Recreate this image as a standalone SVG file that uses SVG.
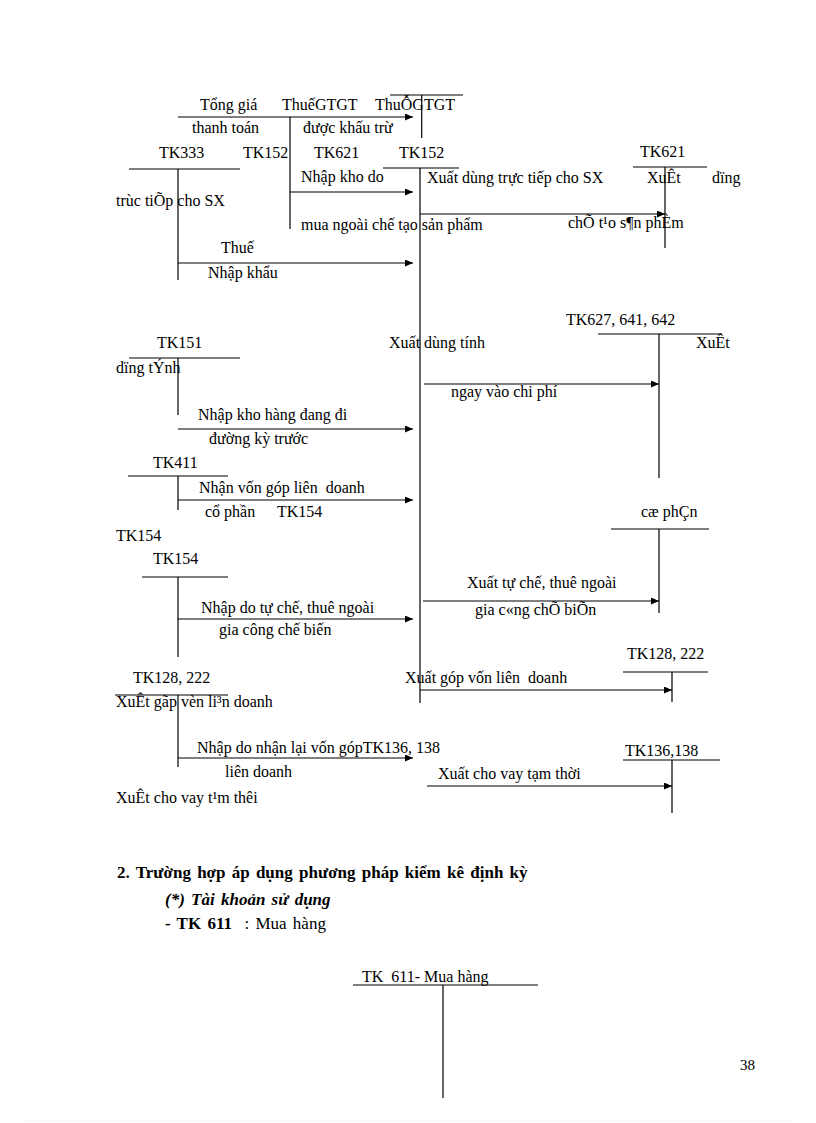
<svg xmlns="http://www.w3.org/2000/svg" width="816" height="1123" viewBox="0 0 816 1123">
<defs>
<marker id="ah" markerUnits="userSpaceOnUse" markerWidth="10" markerHeight="8" refX="8" refY="3.5" orient="auto">
<path d="M0,0 L8,3.5 L0,7 z" fill="#000"/>
</marker>
<style>
text{font-family:"Liberation Serif","Times New Roman",serif;font-size:16px;fill:#000;white-space:pre}
.ln{stroke:#000;stroke-width:1.2;fill:none}
.ar{stroke:#000;stroke-width:1.2;fill:none;marker-end:url(#ah)}
.b{font-weight:bold}
.bi{font-weight:bold;font-style:italic}
.h{font-size:17px;word-spacing:2px}
</style>
</defs>
<rect width="816" height="1123" fill="#fff"/>

<g id="tk-gtgt">
<path class="ln" d="M390,95H463M421.7,95V138"/>
<text x="375" y="110">ThuỖGTGT</text>
</g>
<g id="tk333">
<path class="ln" d="M129,169H240M178,169V280"/>
<text x="159" y="158">TK333</text>
</g>
<g id="tk152-left">
<path class="ln" d="M290,117V229"/>
<text x="243" y="158">TK152</text>
</g>
<g id="tk152-main">
<path class="ln" d="M383,168H459M420,168V703"/>
<text x="399" y="158">TK152</text>
</g>
<g id="tk621">
<path class="ln" d="M633,167H707M665,167V248"/>
<text x="640" y="157">TK621</text>
</g>
<g id="tk627">
<path class="ln" d="M598,334H722M659,334V478"/>
<text x="566" y="325">TK627, 641, 642</text>
</g>
<g id="tk151">
<path class="ln" d="M129,358H240M178,358V415"/>
<text x="157" y="348">TK151</text>
</g>
<g id="tk411">
<path class="ln" d="M128,476H228M178,476V510"/>
<text x="153" y="468">TK411</text>
</g>
<g id="tk154-right">
<path class="ln" d="M611,529H709M659,529V613"/>
<text x="641" y="517">cæ phÇn</text>
</g>
<g id="tk154-left">
<path class="ln" d="M142,577H228M178,577V657"/>
<text x="153" y="564">TK154</text>
</g>
<g id="tk128-left">
<path class="ln" d="M115,695H228M178,695V767"/>
<text x="133" y="683">TK128, 222</text>
</g>
<g id="tk128-right">
<path class="ln" d="M623,672H708M672,672V702"/>
<text x="627" y="659">TK128, 222</text>
</g>
<g id="tk136">
<path class="ln" d="M623,760H720M672,760V813"/>
<text x="625" y="756">TK136,138</text>
</g>
<g id="tk611">
<path class="ln" d="M353,985H538M443,985V1098"/>
<text x="362" y="982">TK  611- Mua hàng</text>
</g>

<g id="connectors">
<line class="ar" x1="178" y1="117" x2="413" y2="117"/>
<line class="ar" x1="290" y1="192" x2="413" y2="192"/>
<line class="ar" x1="420" y1="214" x2="665" y2="214"/>
<line class="ar" x1="178" y1="263" x2="413" y2="263"/>
<line class="ar" x1="424" y1="384" x2="659" y2="384"/>
<line class="ar" x1="178" y1="429" x2="413" y2="429"/>
<line class="ar" x1="178" y1="500" x2="413" y2="500"/>
<line class="ar" x1="423" y1="601" x2="659" y2="601"/>
<line class="ar" x1="178" y1="619" x2="413" y2="619"/>
<line class="ar" x1="420" y1="690" x2="672" y2="690"/>
<line class="ar" x1="178" y1="758" x2="413" y2="758"/>
<line class="ar" x1="427" y1="786" x2="672" y2="786"/>
</g>

<g id="labels">
<text x="200" y="110">Tổng giá</text>
<text x="282" y="110">ThuếGTGT</text>
<text x="192" y="133">thanh toán</text>
<text x="303" y="133">được khấu trừ</text>
<text x="314" y="158">TK621</text>
<text x="301" y="182">Nhập kho do</text>
<text x="427" y="183">Xuất dùng trực tiếp cho SX</text>
<text x="647" y="183">XuÊt</text>
<text x="712" y="183">dïng</text>
<text x="116" y="206">trùc tiÕp cho SX</text>
<text x="301" y="230">mua ngoài chế tạo sản phẩm</text>
<text x="568" y="228">chÕ t¹o s¶n phÈm</text>
<text x="221" y="253">Thuế</text>
<text x="208" y="278">Nhập khẩu</text>
<text x="389" y="348">Xuất dùng tính</text>
<text x="696" y="348">XuÊt</text>
<text x="116" y="373">dïng tÝnh</text>
<text x="451" y="397">ngay vào chi phí</text>
<text x="198" y="420">Nhập kho hàng đang đi</text>
<text x="209" y="444">đường kỳ trước</text>
<text x="199" y="493">Nhận vốn góp liên  doanh</text>
<text x="205" y="517">cổ phần</text>
<text x="277" y="517">TK154</text>
<text x="116" y="541">TK154</text>
<text x="467" y="588">Xuất tự chế, thuê ngoài</text>
<text x="201" y="613">Nhập do tự chế, thuê ngoài</text>
<text x="475" y="615">gia c«ng chÕ biÕn</text>
<text x="219" y="635">gia công chế biến</text>
<text x="405" y="683">Xuất góp vốn liên  doanh</text>
<text x="116" y="707">XuÊt gãp vèn li³n doanh</text>
<text x="197" y="753">Nhập do nhận lại vốn gópTK136, 138</text>
<text x="225" y="777">liên doanh</text>
<text x="438" y="779">Xuất cho vay tạm thời</text>
<text x="116" y="803">XuÊt cho vay t¹m thêi</text>
</g>

<g id="section">
<text x="117" y="878" class="b h">2. Trường hợp áp dụng phương pháp kiểm kê định kỳ</text>
<text x="165" y="905" class="bi h">(*) Tài khoản sử dụng</text>
<text x="165" y="929" class="h"><tspan class="b">- TK 611</tspan>  : Mua hàng</text>
<text x="740" y="1070" style="font-size:15px">38</text>
</g>
<line x1="25" y1="1121" x2="792" y2="1121" stroke="#f2c4f2" stroke-width="1" stroke-dasharray="1,3"/>
</svg>
